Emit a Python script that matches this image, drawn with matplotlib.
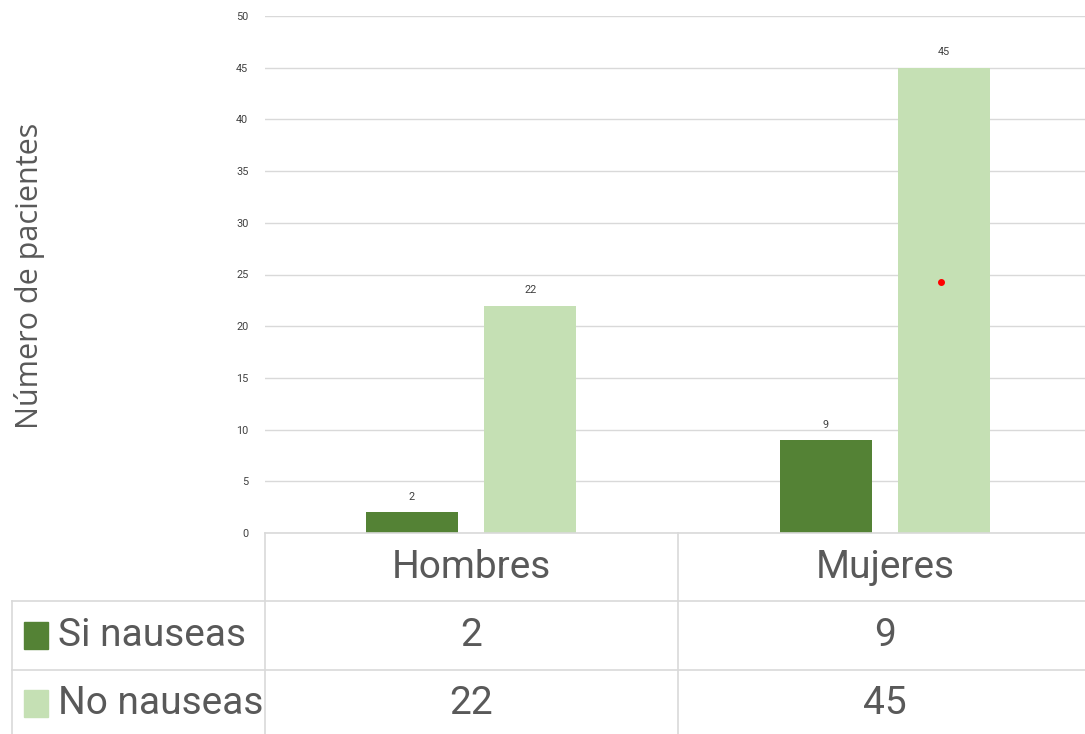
import matplotlib.pyplot as plt
import numpy as np

categories = ['Hombres', 'Mujeres']
series_names = ['Si nauseas', 'No nauseas']
si_nauseas = [2, 9]
no_nauseas = [22, 45]
colors = ['#548235', '#C5E0B4']
stray_dot = [(1.135, 24.3)]  # small red dot visible in the original

W, H = 1085, 734
fig = plt.figure(figsize=(W / 100, H / 100), dpi=100)
text_col = '#595959'
grid_col = '#D9D9D9'


def fx(px):
    return px / W


def fy(py):
    return 1 - py / H


# chart area
ax = fig.add_axes([fx(265), fy(533), fx(1085) - fx(265), fy(16) - fy(533)])
x = np.arange(len(categories))
w = 0.223
off = 0.143
b1 = ax.bar(x - off, si_nauseas, w, color=colors[0], zorder=3)
b2 = ax.bar(x + off, no_nauseas, w, color=colors[1], zorder=3)
for bars in (b1, b2):
    for r in bars:
        ax.text(r.get_x() + r.get_width() / 2, r.get_height() + 1.0, f'{int(r.get_height())}',
                ha='center', va='bottom', fontsize=7.8, color='#404040', family='Roboto')
for dx, dy in stray_dot:
    ax.plot(dx, dy, 'o', color='red', ms=4, zorder=4)

ax.set_xlim(-0.4976, 1.483)
ax.set_ylim(0, 50)
ax.set_yticks(range(0, 51, 5))
ax.tick_params(axis='y', length=0, labelsize=7.8, labelcolor='#404040', pad=12)
for lab in ax.get_yticklabels():
    lab.set_family('Roboto')
ax.set_xticks([])
ax.grid(axis='y', color=grid_col, lw=1, zorder=0)
for s in ax.spines.values():
    s.set_visible(False)

fig.text(fx(30), fy(276), 'Número de pacientes', rotation=90, ha='center', va='center',
         fontsize=22, color=text_col, family='Open Sans')

# data table
lines = [
    ((265, 1085), (533, 533)),
    ((12, 1085), (601, 601)),
    ((12, 1085), (670, 670)),
    ((265, 265), (533, 734)),
    ((678, 678), (533, 734)),
    ((12, 12), (601, 734)),
]
for (x0, x1), (y0, y1) in lines:
    fig.add_artist(plt.Line2D([fx(x0), fx(x1)], [fy(y0), fy(y1)], color=grid_col, lw=1.2))

tfont = dict(family='Roboto', fontsize=28, color=text_col)
col_centers = [471, 885]
for cx, cat in zip(col_centers, categories):
    fig.text(fx(cx), fy(567), cat, ha='center', va='center', **tfont)
row_y = [636, 704]
for ry, name, col, vals in zip(row_y, series_names, colors, (si_nauseas, no_nauseas)):
    fig.add_artist(plt.Rectangle((fx(24), fy(ry + 13)), fx(24), fy(ry - 14) - fy(ry + 13),
                                 color=col, transform=fig.transFigure))
    fig.text(fx(58), fy(ry), name, ha='left', va='center', **tfont)
    for cx, v in zip(col_centers, vals):
        fig.text(fx(cx), fy(ry), str(v), ha='center', va='center', **tfont)

fig.savefig('out.png', dpi=100)
